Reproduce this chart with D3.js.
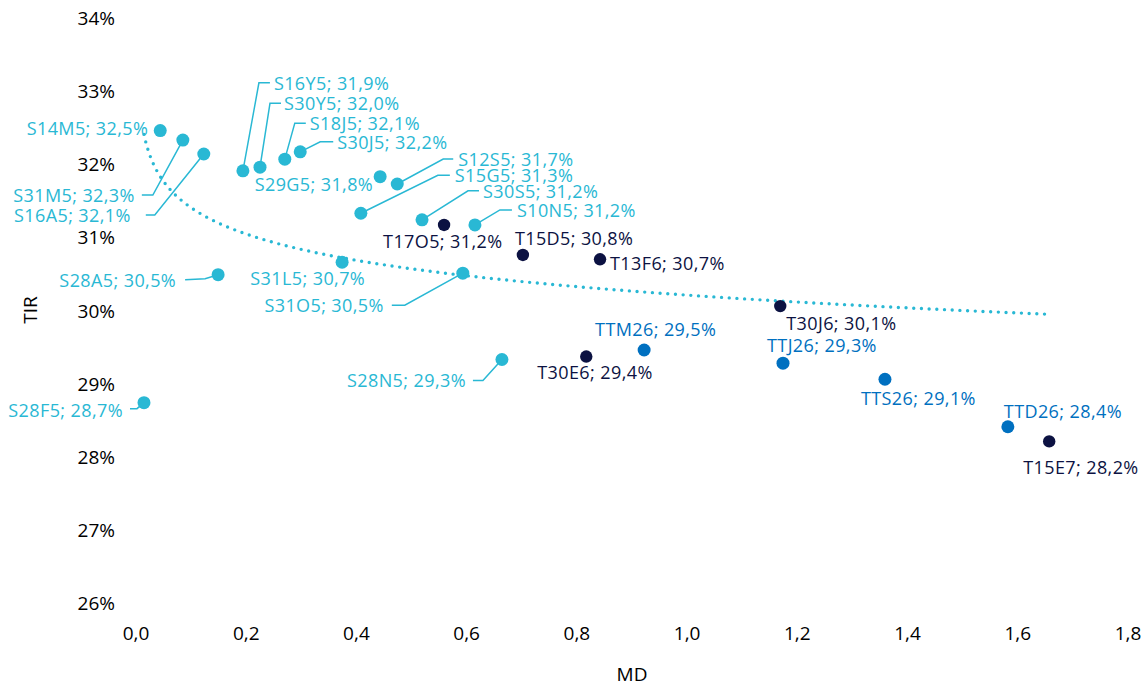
<!DOCTYPE html>
<html>
<head>
<meta charset="utf-8">
<script src="https://cdn.jsdelivr.net/npm/d3@7"></script>
<style>
  body { margin: 0; background: #fff; }
  text { font-family: "Open Sans", sans-serif; }
</style>
</head>
<body>
<div id="chart"></div>
<script>
// bonds on the curve: name, modified duration, yield (TIR)
const names = ["S14M5", "S31M5", "S16A5", "S16Y5", "S30Y5", "S18J5", "S30J5", "S29G5", "S12S5",
  "S15G5", "S30S5", "S10N5", "T17O5", "T15D5", "T13F6", "S31L5", "S28A5", "S31O5", "T30J6",
  "TTM26", "T30E6", "S28N5", "TTJ26", "TTS26", "TTD26", "T15E7", "S28F5"];
const md = [0.044, 0.085, 0.123, 0.194, 0.225, 0.270, 0.298, 0.443, 0.474,
  0.408, 0.519, 0.615, 0.559, 0.702, 0.842, 0.374, 0.149, 0.593, 1.169,
  0.922, 0.817, 0.664, 1.174, 1.359, 1.582, 1.657, 0.0145];
const tir = [32.46, 32.33, 32.14, 31.91, 31.96, 32.07, 32.17, 31.83, 31.73,
  31.33, 31.24, 31.17, 31.17, 30.76, 30.70, 30.66, 30.49, 30.51, 30.06,
  29.46, 29.37, 29.33, 29.28, 29.06, 28.41, 28.21, 28.74];
// S = lecap, T = boncap, TT = dual
const kind = ["S", "S", "S", "S", "S", "S", "S", "S", "S",
  "S", "S", "S", "T", "T", "T", "S", "S", "S", "T",
  "TT", "T", "S", "TT", "TT", "TT", "T", "S"];

const xTicks = [0, 0.2, 0.4, 0.6, 0.8, 1.0, 1.2, 1.4, 1.6, 1.8];
const yTicks = [26, 27, 28, 29, 30, 31, 32, 33, 34];

const colors = { S: "#29b8d4", T: "#0c1242", TT: "#0070c0" };

// label placement relative to the point: text offset, anchor, leader elbow + end
const labelPos = {
  S14M5: { dx: -12, dy: -3, a: "end" },
  S31M5: { dx: -48, dy: 55, a: "end", lead: [[-30, 55], [-41, 55]] },
  S16A5: { dx: -73, dy: 61, a: "end", lead: [[-49, 61], [-58, 61]] },
  S16Y5: { dx: 31, dy: -88, a: "start", lead: [[16, -88], [27, -88]] },
  S30Y5: { dx: 24, dy: -64, a: "start", lead: [[10, -64], [21, -64]] },
  S18J5: { dx: 25, dy: -36, a: "start", lead: [[10, -36], [21, -36]] },
  S30J5: { dx: 37, dy: -10, a: "start", lead: [[20, -10], [33, -10]] },
  S29G5: { dx: -7, dy: 7, a: "end" },
  S12S5: { dx: 61, dy: -25, a: "start", lead: [[46, -25], [56, -25]] },
  S15G5: { dx: 94, dy: -38, a: "start", lead: [[77, -38], [89, -38]] },
  S30S5: { dx: 61, dy: -29, a: "start", lead: [[46, -29], [57, -29]] },
  S10N5: { dx: 42, dy: -15, a: "start", lead: [[25, -15], [37, -15]] },
  T17O5: { dx: -61, dy: 16, a: "start" },
  T15D5: { dx: -8, dy: -17, a: "start" },
  T13F6: { dx: 10, dy: 4, a: "start" },
  S31L5: { dx: 23, dy: 16, a: "end" },
  S28A5: { dx: -42, dy: 5, a: "end", lead: [[-13, 4], [-33, 5]] },
  S31O5: { dx: -79, dy: 32, a: "end", lead: [[-58, 32], [-71, 32]] },
  S28N5: { dx: -36, dy: 21, a: "end", lead: [[-19, 21], [-29, 21]] },
  S28F5: { dx: -21, dy: 7, a: "end", lead: [[-7, 6], [-14, 6]] },
  T30E6: { dx: -49, dy: 15, a: "start" },
  TTM26: { dx: -49, dy: -21, a: "start" },
  T30J6: { dx: 6, dy: 17, a: "start" },
  TTJ26: { dx: -16, dy: -18, a: "start" },
  TTS26: { dx: -24, dy: 19, a: "start" },
  TTD26: { dx: -4, dy: -16, a: "start" },
  T15E7: { dx: -26, dy: 26, a: "start" }
};

const width = 1146, height = 686;
const svg = d3.select("#chart").append("svg")
    .attr("width", width)
    .attr("height", height);
svg.append("rect").attr("width", width).attr("height", height).attr("fill", "#fff");

const x = d3.scaleLinear().domain([0, 1.8]).range([136, 1128]);
const y = d3.scaleLinear().domain([26, 34]).range([603, 18]);

const comma = v => d3.format(".1f")(v).replace(".", ",");

// y tick labels
svg.append("g")
  .selectAll("text")
  .data(yTicks)
  .join("text")
    .attr("x", 115)
    .attr("y", d => y(d))
    .attr("text-anchor", "end")
    .attr("dominant-baseline", "central")
    .attr("font-size", 19)
    .attr("fill", "#000")
    .text(d => d + "%");

// x tick labels
svg.append("g")
  .selectAll("text")
  .data(xTicks)
  .join("text")
    .attr("x", d => x(d))
    .attr("y", 633)
    .attr("text-anchor", "middle")
    .attr("dominant-baseline", "central")
    .attr("font-size", 19)
    .attr("fill", "#000")
    .text(d => comma(d));

svg.append("text")
  .attr("x", 632).attr("y", 674)
  .attr("text-anchor", "middle")
  .attr("dominant-baseline", "central")
  .attr("font-size", 19)
  .text("MD");

svg.append("text")
  .attr("transform", "translate(30,310) rotate(-90)")
  .attr("text-anchor", "middle")
  .attr("dominant-baseline", "central")
  .attr("font-size", 19)
  .text("TIR");

const data = names.map((n, i) => ({ name: n, md: md[i], tir: tir[i], kind: kind[i] }));

// logarithmic trend line over all bonds (like the spreadsheet trendline)
const lx = data.map(d => Math.log(d.md));
const mx = d3.mean(lx), my = d3.mean(data, d => d.tir);
const b = d3.sum(data, (d, i) => (lx[i] - mx) * (d.tir - my)) / d3.sum(lx, v => (v - mx) * (v - mx));
const a = my - b * mx;
const [x0, x1] = d3.extent(md);
const trendX = d3.range(0, 201).map(k => x0 * Math.pow(x1 / x0, k / 200));

svg.append("path")
  .datum(trendX)
  .attr("fill", "none")
  .attr("stroke", colors.S)
  .attr("stroke-width", 3.4)
  .attr("stroke-linecap", "round")
  .attr("stroke-dasharray", "0 7.7")
  .attr("d", d3.line()
    .x(d => x(d))
    .y(d => y(a + b * Math.log(d))));

// leader lines
svg.append("g")
  .selectAll("path")
  .data(data.filter(d => labelPos[d.name].lead))
  .join("path")
    .attr("fill", "none")
    .attr("stroke", d => colors[d.kind])
    .attr("stroke-width", 1.5)
    .attr("d", d => {
      const px = x(d.md), py = y(d.tir);
      const pts = [[px, py]].concat(labelPos[d.name].lead.map(p => [px + p[0], py + p[1]]));
      return d3.line()(pts);
    });

// points
svg.append("g")
  .selectAll("circle")
  .data(data)
  .join("circle")
    .attr("cx", d => x(d.md))
    .attr("cy", d => y(d.tir))
    .attr("r", d => d.kind === "T" ? 6.2 : 6.5)
    .attr("fill", d => colors[d.kind]);

// labels
svg.append("g")
  .selectAll("text")
  .data(data)
  .join("text")
    .attr("x", d => x(d.md) + labelPos[d.name].dx)
    .attr("y", d => y(d.tir) + labelPos[d.name].dy)
    .attr("text-anchor", d => labelPos[d.name].a)
    .attr("dominant-baseline", "central")
    .attr("font-size", 18)
    .attr("letter-spacing", 0.4)
    .attr("fill", d => colors[d.kind])
    .text(d => d.name + "; " + comma(d.tir) + "%");
</script>
</body>
</html>
